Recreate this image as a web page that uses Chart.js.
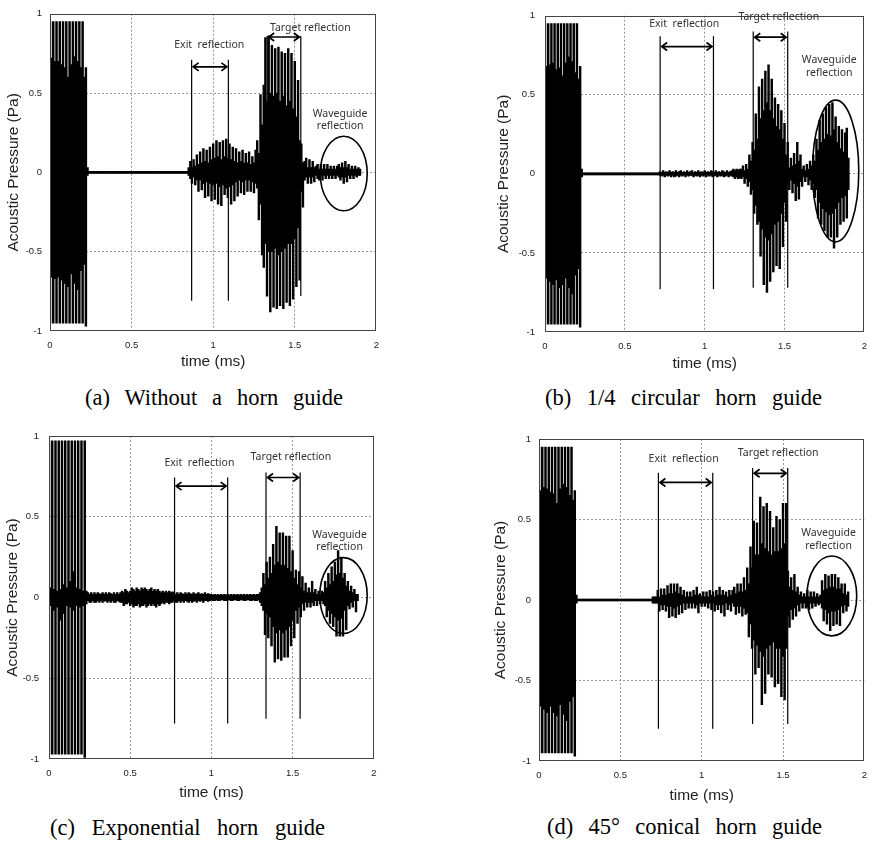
<!DOCTYPE html>
<html>
<head>
<meta charset="utf-8">
<script src="https://cdn.jsdelivr.net/npm/chart.js@4.4.1/dist/chart.umd.min.js"></script>
<style>
  body { margin: 0; background: #fff; width: 870px; height: 846px; overflow: hidden; position: relative; }
  canvas { position: absolute; }
  .cap { position: absolute; font-family: "Liberation Serif", "Times New Roman", serif; font-size: 22.5px;
         line-height: 26px; color: #000; text-align: justify; text-align-last: justify; }
</style>
</head>
<body>
<canvas id="chartA" width="388" height="375" style="left:0;top:0"></canvas>
<canvas id="chartB" width="386" height="377" style="left:490px;top:0"></canvas>
<canvas id="chartC" width="386" height="386" style="left:-1px;top:420px"></canvas>
<canvas id="chartD" width="389" height="384" style="left:487px;top:425px"></canvas>
<div class="cap" style="left:85px;top:385px;width:258px">(a) Without a horn guide</div>
<div class="cap" style="left:545px;top:385px;width:277px">(b) 1/4 circular horn guide</div>
<div class="cap" style="left:50px;top:815px;width:275px">(c) Exponential horn guide</div>
<div class="cap" style="left:547px;top:814px;width:275px">(d) 45° conical horn guide</div>
<script>
// 샘플 간격 (ms) - 그림에서 0.01 ms 마다 파형의 위/아래 끝값을 읽음
const sampleStep = 0.01;
const timeTicks = [0, 0.5, 1, 1.5, 2];
const pressureTicks = [-1, -0.5, 0, 0.5, 1];

// (a) Without a horn guide
const aHi = [
  .95,.72,.95,.70,.95,.70,.95,.68,.95,.66,
  .95,.60,.95,.68,.95,.73,.95,.70,.95,.66,
  .95,.60,.66,.03,.006,.006,.006,.006,.006,.006,
  .006,.006,.006,.006,.006,.006,.006,.006,.006,.006,
  .006,.006,.006,.006,.006,.006,.006,.006,.006,.006,
  .006,.006,.006,.006,.006,.006,.006,.006,.006,.006,
  .006,.006,.006,.006,.006,.006,.006,.006,.006,.006,
  .006,.006,.006,.006,.006,.006,.006,.006,.006,.006,
  .006,.006,.006,.006,.006,.03,.07,.03,.08,.04,
  .11,.05,.13,.06,.15,.07,.14,.06,.16,.08,
  .18,.09,.20,.10,.19,.08,.20,.10,.21,.09,
  .18,.08,.16,.07,.15,.06,.13,.07,.14,.06,
  .12,.06,.13,.05,.10,.06,.14,.20,.12,.49,
  .30,.55,.85,.45,.86,.50,.80,.48,.78,.50,
  .79,.45,.76,.48,.75,.42,.78,.45,.75,.40,
  .70,.35,.58,.20,.18,.06,.07,.09,.03,.08,
  .03,.07,.03,.04,.05,.02,.05,.02,.05,.02,
  .05,.02,.04,.02,.04,.02,.04,.05,.03,.06,
  .03,.07,.03,.05,.02,.04,.02,.04,.02,.03,
  .02
];
const aLo = [
  -.95,-.66,-.95,-.67,-.95,-.66,-.95,-.68,-.95,-.70,
  -.95,-.72,-.95,-.64,-.95,-.70,-.95,-.74,-.95,-.62,
  -.95,-.58,-.97,-.02,-.006,-.006,-.006,-.006,-.006,-.006,
  -.006,-.006,-.006,-.006,-.006,-.006,-.006,-.006,-.006,-.006,
  -.006,-.006,-.006,-.006,-.006,-.006,-.006,-.006,-.006,-.006,
  -.006,-.006,-.006,-.006,-.006,-.006,-.006,-.006,-.006,-.006,
  -.006,-.006,-.006,-.006,-.006,-.006,-.006,-.006,-.006,-.006,
  -.006,-.006,-.006,-.006,-.006,-.006,-.006,-.006,-.006,-.006,
  -.006,-.006,-.006,-.006,-.006,-.02,-.04,-.07,-.03,-.08,
  -.05,-.12,-.05,-.11,-.07,-.16,-.06,-.15,-.07,-.18,
  -.08,-.17,-.07,-.20,-.09,-.21,-.08,-.14,-.10,-.16,
  -.09,-.20,-.08,-.18,-.06,-.15,-.05,-.13,-.06,-.14,
  -.05,-.12,-.05,-.12,-.06,-.13,-.07,-.10,-.30,-.20,
  -.52,-.60,-.45,-.78,-.50,-.88,-.50,-.85,-.48,-.86,
  -.52,-.84,-.50,-.86,-.48,-.82,-.45,-.84,-.45,-.80,
  -.42,-.72,-.35,-.68,-.12,-.22,-.05,-.03,-.07,-.03,
  -.07,-.03,-.06,-.02,-.04,-.05,-.02,-.05,-.02,-.04,
  -.02,-.04,-.02,-.04,-.02,-.04,-.02,-.03,-.05,-.03,
  -.07,-.03,-.06,-.02,-.04,-.02,-.04,-.02,-.03,-.02,
  -.02
];

// (b) 1/4 circular horn guide
const bHi = [
  .95,.68,.95,.69,.95,.70,.95,.66,.95,.67,
  .95,.62,.95,.70,.95,.74,.95,.71,.95,.64,
  .95,.60,.68,.03,.006,.006,.006,.006,.006,.006,
  .006,.006,.006,.006,.006,.006,.006,.006,.006,.006,
  .006,.006,.006,.006,.006,.006,.006,.006,.006,.006,
  .006,.006,.006,.006,.006,.006,.006,.006,.006,.006,
  .006,.006,.006,.006,.006,.006,.006,.006,.006,.006,
  .006,.006,.015,.01,.02,.01,.015,.01,.02,.01,
  .015,.01,.02,.01,.015,.02,.01,.015,.01,.02,
  .01,.015,.02,.01,.015,.01,.02,.01,.015,.01,
  .02,.01,.015,.01,.02,.015,.01,.02,.01,.015,
  .01,.02,.015,.01,.02,.01,.015,.02,.03,.02,
  .03,.025,.03,.03,.05,.02,.06,.03,.12,.08,
  .20,.15,.38,.22,.55,.35,.60,.40,.65,.45,
  .69,.40,.60,.35,.48,.30,.44,.28,.40,.22,
  .32,.12,.20,.04,.10,.05,.13,.06,.20,.08,
  .12,.03,.05,.02,.06,.03,.08,.05,.12,.08,
  .22,.15,.34,.20,.38,.22,.42,.25,.44,.24,
  .45,.28,.36,.20,.30,.16,.28,.14,.26,.29,
  .10
];
const bLo = [
  -.95,-.66,-.95,-.68,-.95,-.70,-.95,-.67,-.95,-.72,
  -.95,-.70,-.95,-.66,-.95,-.72,-.95,-.76,-.95,-.64,
  -.95,-.60,-.97,-.02,-.006,-.006,-.006,-.006,-.006,-.006,
  -.006,-.006,-.006,-.006,-.006,-.006,-.006,-.006,-.006,-.006,
  -.006,-.006,-.006,-.006,-.006,-.006,-.006,-.006,-.006,-.006,
  -.006,-.006,-.006,-.006,-.006,-.006,-.006,-.006,-.006,-.006,
  -.006,-.006,-.006,-.006,-.006,-.006,-.006,-.006,-.006,-.006,
  -.006,-.006,-.01,-.015,-.01,-.02,-.01,-.015,-.01,-.02,
  -.01,-.02,-.015,-.01,-.02,-.01,-.015,-.01,-.02,-.01,
  -.015,-.01,-.01,-.02,-.01,-.015,-.01,-.02,-.01,-.015,
  -.01,-.02,-.01,-.015,-.01,-.02,-.015,-.01,-.02,-.01,
  -.015,-.01,-.02,-.015,-.01,-.02,-.01,-.015,-.02,-.03,
  -.02,-.03,-.025,-.03,-.02,-.06,-.03,-.08,-.05,-.13,
  -.10,-.25,-.20,-.32,-.30,-.52,-.35,-.70,-.40,-.75,
  -.42,-.68,-.38,-.62,-.32,-.58,-.30,-.60,-.25,-.46,
  -.18,-.30,-.06,-.10,-.04,-.12,-.06,-.17,-.08,-.16,
  -.05,-.08,-.02,-.05,-.02,-.07,-.04,-.10,-.06,-.15,
  -.10,-.28,-.18,-.32,-.22,-.36,-.24,-.40,-.26,-.40,
  -.25,-.47,-.22,-.40,-.18,-.32,-.15,-.30,-.14,-.28,
  -.10
];

// (c) Exponential horn guide
const cHi = [
  .97,.06,.97,.05,.97,.04,.97,.05,.97,.08,
  .97,.06,.97,.10,.97,.16,.97,.06,.97,.05,
  .97,.04,.97,.04,.03,.02,.03,.02,.03,.02,
  .03,.025,.02,.03,.02,.03,.02,.03,.025,.02,
  .03,.02,.03,.02,.03,.04,.03,.05,.04,.03,
  .04,.06,.05,.04,.06,.05,.04,.06,.05,.06,
  .05,.04,.05,.06,.04,.05,.04,.05,.04,.03,
  .04,.03,.04,.03,.04,.03,.035,.03,.02,.03,
  .02,.03,.025,.02,.03,.02,.03,.025,.02,.03,
  .02,.025,.03,.02,.025,.02,.03,.02,.025,.02,
  .02,.015,.02,.015,.02,.015,.02,.015,.02,.015,
  .02,.015,.02,.015,.02,.015,.02,.015,.02,.015,
  .02,.015,.02,.015,.02,.015,.02,.015,.02,.02,
  .03,.06,.15,.08,.22,.12,.25,.15,.33,.20,
  .44,.22,.40,.20,.40,.20,.38,.18,.38,.16,
  .29,.12,.17,.08,.16,.06,.13,.04,.09,.03,
  .06,.03,.10,.03,.05,.02,.04,.02,.04,.03,
  .10,.06,.15,.08,.19,.10,.22,.14,.29,.15,
  .25,.12,.15,.07,.10,.04,.07,.03,.05,.02,
  .02
];
const cLo = [
  -.97,-.05,-.97,-.08,-.97,-.06,-.97,-.14,-.97,-.10,
  -.97,-.05,-.97,-.06,-.97,-.08,-.97,-.05,-.97,-.06,
  -.97,-.05,-.99,-.04,-.02,-.03,-.03,-.02,-.03,-.03,
  -.02,-.03,-.02,-.03,-.025,-.02,-.03,-.02,-.03,-.02,
  -.03,-.03,-.02,-.025,-.03,-.03,-.05,-.04,-.04,-.03,
  -.05,-.04,-.06,-.05,-.05,-.04,-.06,-.05,-.05,-.04,
  -.06,-.05,-.04,-.05,-.04,-.05,-.06,-.04,-.05,-.04,
  -.03,-.04,-.03,-.03,-.04,-.03,-.03,-.02,-.03,-.03,
  -.02,-.03,-.02,-.03,-.02,-.025,-.03,-.02,-.03,-.025,
  -.02,-.03,-.02,-.025,-.02,-.03,-.02,-.02,-.025,-.02,
  -.015,-.02,-.02,-.015,-.02,-.02,-.015,-.015,-.02,-.02,
  -.015,-.015,-.02,-.02,-.015,-.015,-.02,-.02,-.015,-.015,
  -.02,-.02,-.015,-.015,-.02,-.02,-.015,-.02,-.02,-.015,
  -.03,-.05,-.08,-.23,-.10,-.25,-.12,-.30,-.18,-.40,
  -.22,-.38,-.20,-.39,-.22,-.37,-.20,-.37,-.18,-.30,
  -.14,-.25,-.08,-.16,-.06,-.12,-.04,-.08,-.03,-.06,
  -.03,-.06,-.03,-.05,-.02,-.05,-.02,-.04,-.02,-.04,
  -.05,-.12,-.08,-.16,-.10,-.18,-.12,-.24,-.14,-.24,
  -.13,-.24,-.08,-.20,-.05,-.07,-.03,-.06,-.02,-.09,
  -.02
];

// (d) 45° conical horn guide
const dHi = [
  .95,.68,.95,.70,.95,.69,.95,.67,.95,.66,
  .95,.60,.95,.69,.95,.72,.95,.70,.95,.65,
  .95,.62,.68,.03,.006,.006,.006,.006,.006,.006,
  .006,.006,.006,.006,.006,.006,.006,.006,.006,.006,
  .006,.006,.006,.006,.006,.006,.006,.006,.006,.006,
  .006,.006,.006,.006,.006,.006,.006,.006,.006,.006,
  .006,.006,.006,.006,.006,.006,.006,.006,.006,.006,
  .02,.02,.02,.06,.02,.07,.03,.07,.03,.09,
  .04,.10,.04,.10,.05,.10,.04,.08,.03,.06,
  .02,.05,.02,.05,.02,.06,.03,.08,.03,.04,
  .02,.05,.02,.05,.02,.06,.03,.05,.02,.06,
  .03,.08,.03,.06,.03,.05,.02,.06,.03,.06,
  .08,.04,.10,.05,.10,.05,.14,.06,.20,.10,
  .33,.20,.49,.28,.48,.28,.64,.35,.58,.32,
  .60,.30,.55,.28,.45,.30,.52,.30,.50,.32,
  .60,.35,.60,.18,.08,.14,.06,.16,.05,.08,
  .03,.05,.02,.04,.02,.06,.02,.05,.02,.05,
  .02,.04,.02,.03,.12,.06,.16,.07,.15,.08,
  .16,.08,.16,.07,.14,.07,.10,.04,.10,.03,
  .05
];
const dLo = [
  -.95,-.66,-.95,-.68,-.95,-.70,-.95,-.66,-.95,-.70,
  -.95,-.72,-.95,-.65,-.95,-.71,-.95,-.75,-.95,-.63,
  -.95,-.60,-.97,-.02,-.006,-.006,-.006,-.006,-.006,-.006,
  -.006,-.006,-.006,-.006,-.006,-.006,-.006,-.006,-.006,-.006,
  -.006,-.006,-.006,-.006,-.006,-.006,-.006,-.006,-.006,-.006,
  -.006,-.006,-.006,-.006,-.006,-.006,-.006,-.006,-.006,-.006,
  -.006,-.006,-.006,-.006,-.006,-.006,-.006,-.006,-.006,-.006,
  -.02,-.02,-.02,-.02,-.07,-.03,-.06,-.03,-.07,-.04,
  -.11,-.04,-.10,-.05,-.11,-.04,-.09,-.03,-.08,-.02,
  -.06,-.02,-.05,-.02,-.05,-.02,-.05,-.03,-.08,-.02,
  -.04,-.02,-.04,-.02,-.05,-.02,-.06,-.02,-.07,-.03,
  -.06,-.03,-.08,-.03,-.10,-.02,-.06,-.03,-.07,-.02,
  -.04,-.09,-.04,-.08,-.04,-.10,-.05,-.09,-.08,-.23,
  -.15,-.30,-.25,-.46,-.28,-.42,-.32,-.65,-.35,-.58,
  -.30,-.46,-.28,-.48,-.26,-.54,-.30,-.52,-.30,-.60,
  -.35,-.62,-.30,-.10,-.17,-.06,-.12,-.05,-.10,-.03,
  -.07,-.02,-.05,-.02,-.05,-.02,-.06,-.02,-.05,-.02,
  -.04,-.02,-.03,-.02,-.05,-.13,-.06,-.15,-.08,-.19,
  -.07,-.16,-.07,-.15,-.06,-.16,-.04,-.08,-.03,-.07,
  -.04
];

// 구간 표시선, 화살표, 타원, 라벨 (시간/압력 값 기준)
const marksA = {
  exit:   { from: 0.868, to: 1.093, top: 0.71, bottom: -0.81, arrow: 0.665 },
  target: { from: 1.331, to: 1.537, top: 0.86, bottom: -0.78, arrow: 0.853 },
  ring:   { t: 1.80, p: -0.007, dt: 0.144, dp: 0.235 },
  labels: [
    { text: 'Exit  reflection', t: 0.976, p: 0.80 },
    { text: 'Target reflection', t: 1.595, p: 0.91 },
    { text: 'Waveguide', t: 1.778, p: 0.37 },
    { text: 'reflection', t: 1.778, p: 0.295 }
  ]
};
const marksB = {
  exit:   { from: 0.721, to: 1.055, top: 0.87, bottom: -0.73, arrow: 0.805 },
  target: { from: 1.304, to: 1.520, top: 0.90, bottom: -0.72, arrow: 0.864 },
  ring:   { t: 1.82, p: 0.018, dt: 0.145, dp: 0.448 },
  labels: [
    { text: 'Exit  reflection', t: 0.872, p: 0.95 },
    { text: 'Target reflection', t: 1.464, p: 0.99 },
    { text: 'Waveguide', t: 1.78, p: 0.717 },
    { text: 'reflection', t: 1.78, p: 0.637 }
  ]
};
const marksC = {
  exit:   { from: 0.773, to: 1.100, top: 0.743, bottom: -0.78, arrow: 0.69 },
  target: { from: 1.336, to: 1.546, top: 0.774, bottom: -0.75, arrow: 0.743 },
  ring:   { t: 1.813, p: 0.012, dt: 0.146, dp: 0.235 },
  labels: [
    { text: 'Exit  reflection', t: 0.926, p: 0.83 },
    { text: 'Target reflection', t: 1.489, p: 0.867 },
    { text: 'Waveguide', t: 1.789, p: 0.386 },
    { text: 'reflection', t: 1.789, p: 0.313 }
  ]
};
const marksD = {
  exit:   { from: 0.734, to: 1.068, top: 0.79, bottom: -0.80, arrow: 0.73 },
  target: { from: 1.313, to: 1.529, top: 0.82, bottom: -0.77, arrow: 0.787 },
  ring:   { t: 1.80, p: 0.025, dt: 0.153, dp: 0.248 },
  labels: [
    { text: 'Exit  reflection', t: 0.889, p: 0.874 },
    { text: 'Target reflection', t: 1.470, p: 0.915 },
    { text: 'Waveguide', t: 1.78, p: 0.414 },
    { text: 'reflection', t: 1.78, p: 0.335 }
  ]
};

// 플롯 테두리와 주석 그리기
const marksPlugin = {
  id: 'marks',
  afterDatasetsDraw(chart, args, m) {
    const { ctx, chartArea: area, scales: { x, y } } = chart;
    ctx.save();
    ctx.strokeStyle = '#444';
    ctx.lineWidth = 1;
    ctx.strokeRect(Math.round(area.left) + 0.5, Math.round(area.top) + 0.5,
                   Math.round(area.width) - 1, Math.round(area.height) - 1);

    ctx.strokeStyle = '#000';
    [m.exit, m.target].forEach(w => {
      const x1 = x.getPixelForValue(w.from), x2 = x.getPixelForValue(w.to);
      const yTop = y.getPixelForValue(w.top), yBot = y.getPixelForValue(w.bottom);
      ctx.lineWidth = 1.2;
      ctx.beginPath();
      ctx.moveTo(x1, yTop); ctx.lineTo(x1, yBot);
      ctx.moveTo(x2, yTop); ctx.lineTo(x2, yBot);
      ctx.stroke();
      const ya = y.getPixelForValue(w.arrow);
      ctx.lineWidth = 1.7;
      ctx.beginPath();
      ctx.moveTo(x1 + 1.5, ya); ctx.lineTo(x2 - 1.5, ya);
      ctx.moveTo(x1 + 7, ya - 4); ctx.lineTo(x1 + 1.5, ya); ctx.lineTo(x1 + 7, ya + 4);
      ctx.moveTo(x2 - 7, ya - 4); ctx.lineTo(x2 - 1.5, ya); ctx.lineTo(x2 - 7, ya + 4);
      ctx.stroke();
    });

    const e = m.ring;
    const cx = x.getPixelForValue(e.t), cy = y.getPixelForValue(e.p);
    const rx = Math.abs(x.getPixelForValue(e.t + e.dt) - cx);
    const ry = Math.abs(y.getPixelForValue(e.p + e.dp) - cy);
    ctx.lineWidth = 1.6;
    ctx.beginPath();
    ctx.ellipse(cx, cy, rx, ry, 0, 0, Math.PI * 2);
    ctx.stroke();

    ctx.font = '10.5px "Noto Sans"';
    ctx.fillStyle = '#333';
    ctx.textAlign = 'center';
    ctx.textBaseline = 'middle';
    m.labels.forEach(l => ctx.fillText(l.text, x.getPixelForValue(l.t), y.getPixelForValue(l.p)));
    ctx.restore();
  }
};

// 테두리와 겹치는 눈금선은 숨김
const innerGrid = (lo, hi) => c => (c.tick && (c.tick.value === lo || c.tick.value === hi)) ? 'rgba(0,0,0,0)' : '#999';

function makePanel(id, hi, lo, marks, box) {
  const n = Math.min(hi.length, lo.length);
  const points = [];
  for (let i = 0; i < n; i++) {
    points.push({ x: i * sampleStep, y: [lo[i], hi[i]] });
  }
  const tickFont = { family: 'Liberation Sans', size: 9.5 };
  const titleFont = { family: 'Liberation Sans', size: 15.5 };

  new Chart(document.getElementById(id).getContext('2d'), {
    type: 'bar',
    data: {
      datasets: [{
        data: points,
        backgroundColor: '#000',
        borderWidth: 0,
        barThickness: 1.8
      }]
    },
    options: {
      responsive: false,
      animation: false,
      events: [],
      layout: { padding: { top: box.pt, right: 10, left: 0, bottom: 0 } },
      plugins: { legend: { display: false }, tooltip: { enabled: false }, marks: marks },
      scales: {
        x: {
          type: 'linear',
          min: 0, max: 2,
          offset: false,
          afterBuildTicks: s => { s.ticks = timeTicks.map(v => ({ value: v })); },
          afterFit: s => { s.height = box.xh; },
          grid: { color: innerGrid(0, 2), drawTicks: false, offset: false },
          border: { display: false, dash: [2, 2] },
          ticks: { font: tickFont, color: '#222', padding: box.xpad, maxRotation: 0, autoSkip: false,
                   callback: v => String(v) },
          title: { display: true, text: 'time (ms)', font: titleFont, color: '#222' }
        },
        y: {
          min: -1, max: 1,
          afterBuildTicks: s => { s.ticks = pressureTicks.map(v => ({ value: v })); },
          afterFit: s => { s.width = box.yw; },
          grid: { color: innerGrid(-1, 1), drawTicks: false },
          border: { display: false, dash: [2, 2] },
          ticks: { font: tickFont, color: '#222', padding: box.ypad, callback: v => String(v) },
          title: { display: true, text: 'Acoustic Pressure (Pa)', font: titleFont, color: '#222' }
        }
      }
    },
    plugins: [marksPlugin]
  });
}

makePanel('chartA', aHi, aLo, marksA, { yw: 50, pt: 6,   xh: 44, xpad: 9,   ypad: 8 });
makePanel('chartB', bHi, bLo, marksB, { yw: 55, pt: 9.5, xh: 45, xpad: 9,   ypad: 10 });
makePanel('chartC', cHi, cLo, marksC, { yw: 50, pt: 16,  xh: 47, xpad: 8.5, ypad: 10 });
makePanel('chartD', dHi, dLo, marksD, { yw: 52, pt: 14,  xh: 48, xpad: 9,   ypad: 8 });
</script>
</body>
</html>
